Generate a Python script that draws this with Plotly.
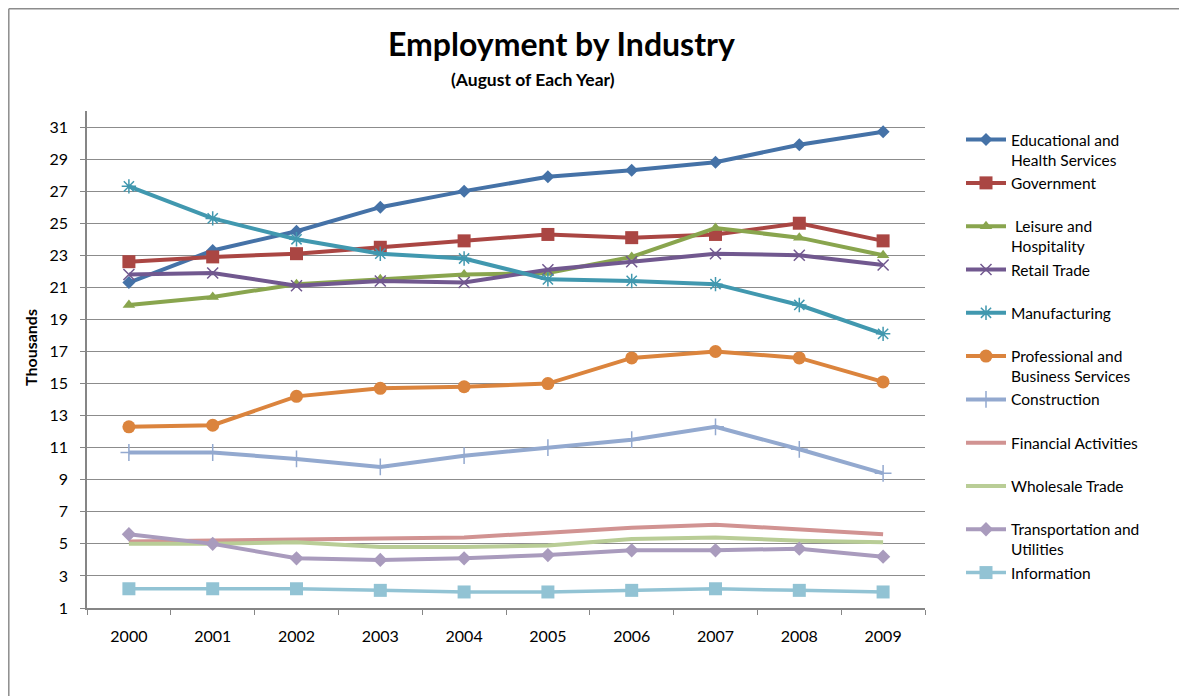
import plotly.graph_objects as go

years = ["2000", "2001", "2002", "2003", "2004", "2005", "2006", "2007", "2008", "2009"]

educational = [21.3, 23.3, 24.5, 26.0, 27.0, 27.9, 28.3, 28.8, 29.9, 30.7]
government = [22.6, 22.9, 23.1, 23.5, 23.9, 24.3, 24.1, 24.3, 25.0, 23.9]
leisure = [19.9, 20.4, 21.2, 21.5, 21.8, 21.9, 22.9, 24.7, 24.1, 23.0]
retail = [21.8, 21.9, 21.1, 21.4, 21.3, 22.1, 22.6, 23.1, 23.0, 22.4]
manufacturing = [27.3, 25.3, 24.0, 23.1, 22.8, 21.5, 21.4, 21.2, 19.9, 18.1]
professional = [12.3, 12.4, 14.2, 14.7, 14.8, 15.0, 16.6, 17.0, 16.6, 15.1]
construction = [10.7, 10.7, 10.3, 9.8, 10.5, 11.0, 11.5, 12.3, 10.9, 9.4]
financial = [5.15, 5.2, 5.3, 5.3, 5.4, 5.7, 6.0, 6.2, 5.9, 5.6]
wholesale = [5.0, 5.0, 5.1, 4.8, 4.8, 4.9, 5.3, 5.4, 5.2, 5.1]
transportation = [5.6, 5.0, 4.1, 4.0, 4.1, 4.3, 4.6, 4.6, 4.7, 4.2]
information = [2.2, 2.2, 2.2, 2.1, 2.0, 2.0, 2.1, 2.2, 2.1, 2.0]

y_ticks = list(range(1, 32, 2))

NB = "\u00a0"
series = [
    ("Educational and<br>Health Services", educational, "#4572A7", "diamond", 10, 4),
    ("Government<br>" + NB, government, "#AA4643", "square", 13, 4),
    (NB + "Leisure and<br>Hospitality", leisure, "#89A54E", "triangle-up", 11, 4),
    ("Retail Trade<br>" + NB, retail, "#71588F", "x-thin-open", 11, 4),
    ("Manufacturing<br>" + NB, manufacturing, "#4198AF", "asterisk-open", 12, 4),
    ("Professional and<br>Business Services", professional, "#DB843D", "circle", 13, 4),
    ("Construction<br>" + NB, construction, "#93A9CF", "cross-thin-open", 12, 4),
    ("Financial Activities<br>" + NB, financial, "#D19392", None, 0, 4),
    ("Wholesale Trade<br>" + NB, wholesale, "#B9CD96", None, 0, 4),
    ("Transportation and<br>Utilities", transportation, "#A99BBD", "diamond", 11, 4),
    ("Information<br>" + NB, information, "#92C3D4", "square", 13, 3.5),
]

fig = go.Figure()
for i, (name, vals, color, sym, size, lw) in enumerate(series):
    if sym is None:
        mode = "lines"
        marker = dict()
    else:
        mode = "lines+markers"
        marker = dict(symbol=sym, size=size, color=color,
                      line=dict(color=color, width=1.5 if "open" in sym else 0))
    fig.add_trace(go.Scatter(
        x=years, y=vals, name=name, mode=mode,
        line=dict(color=color, width=lw),
        marker=marker, legendgroup=str(i),
    ))

FONT = "Lato"
# plot area in page pixels: left 87, top 111, width 838, height 497 (page has 8px body margin)
L, T, W, H = 87, 111, 838, 497
FIG_W, FIG_H = 1179, 688


def px(x):
    return (x - L) / W


def py(y):
    return (T + H - y) / H


border = dict(color="#8C8C8C", width=1.5)

fig.update_layout(
    width=FIG_W, height=FIG_H,
    margin=dict(l=L - 8, r=FIG_W + 8 - L - W, t=T - 8, b=FIG_H + 8 - T - H, pad=0),
    paper_bgcolor="white", plot_bgcolor="white",
    font=dict(family=FONT, size=16, color="#000000"),
    showlegend=True,
    legend=dict(
        x=px(961), y=py(123), xanchor="left", yanchor="top",
        font=dict(family=FONT, size=15.5, color="#000000"),
        valign="top", tracegroupgap=0, traceorder="grouped",
        itemwidth=40,
        bgcolor="rgba(0,0,0,0)", borderwidth=0,
    ),
    xaxis=dict(
        type="category", tickson="boundaries", ticks="outside", ticklen=5,
        tickcolor="#868686", showline=True, linecolor="#868686", linewidth=1.5,
        showgrid=False, zeroline=False, range=[-0.5, 9.5],
        tickfont=dict(family=FONT, size=16, color="#000000"),
        ticklabelstandoff=13,
    ),
    yaxis=dict(
        range=[1, 32], tickmode="array", tickvals=y_ticks,
        ticks="outside", ticklen=5, tickcolor="#868686",
        showline=True, linecolor="#868686", linewidth=1.5,
        showgrid=True, gridcolor="#8C8C8C", gridwidth=1, zeroline=False,
        tickfont=dict(family=FONT, size=16, color="#000000"),
        ticklabelstandoff=9,
    ),
    annotations=[
        dict(text="<b>Employment by Industry</b>", xref="paper", yref="paper",
             x=px(561), y=py(43), xanchor="center", yanchor="middle",
             showarrow=False, font=dict(family=FONT, size=32, color="#000000")),
        dict(text="<b>(August of Each Year)</b>", xref="paper", yref="paper",
             x=px(533), y=py(80), xanchor="center", yanchor="middle",
             showarrow=False, font=dict(family=FONT, size=17.5, color="#000000")),
        dict(text="<b>Thousands</b>", xref="paper", yref="paper",
             x=px(30), y=py(348), xanchor="center", yanchor="middle",
             textangle=-90, showarrow=False, font=dict(family=FONT, size=16, color="#000000")),
    ],
    shapes=[
        dict(type="line", xref="paper", yref="paper",
             x0=px(8.8), x1=px(1186), y0=py(8.8), y1=py(8.8), line=border, layer="below"),
        dict(type="line", xref="paper", yref="paper",
             x0=px(8.8), x1=px(8.8), y0=py(8.8), y1=py(696), line=border, layer="below"),
    ],
)

fig.write_html("out.html")
